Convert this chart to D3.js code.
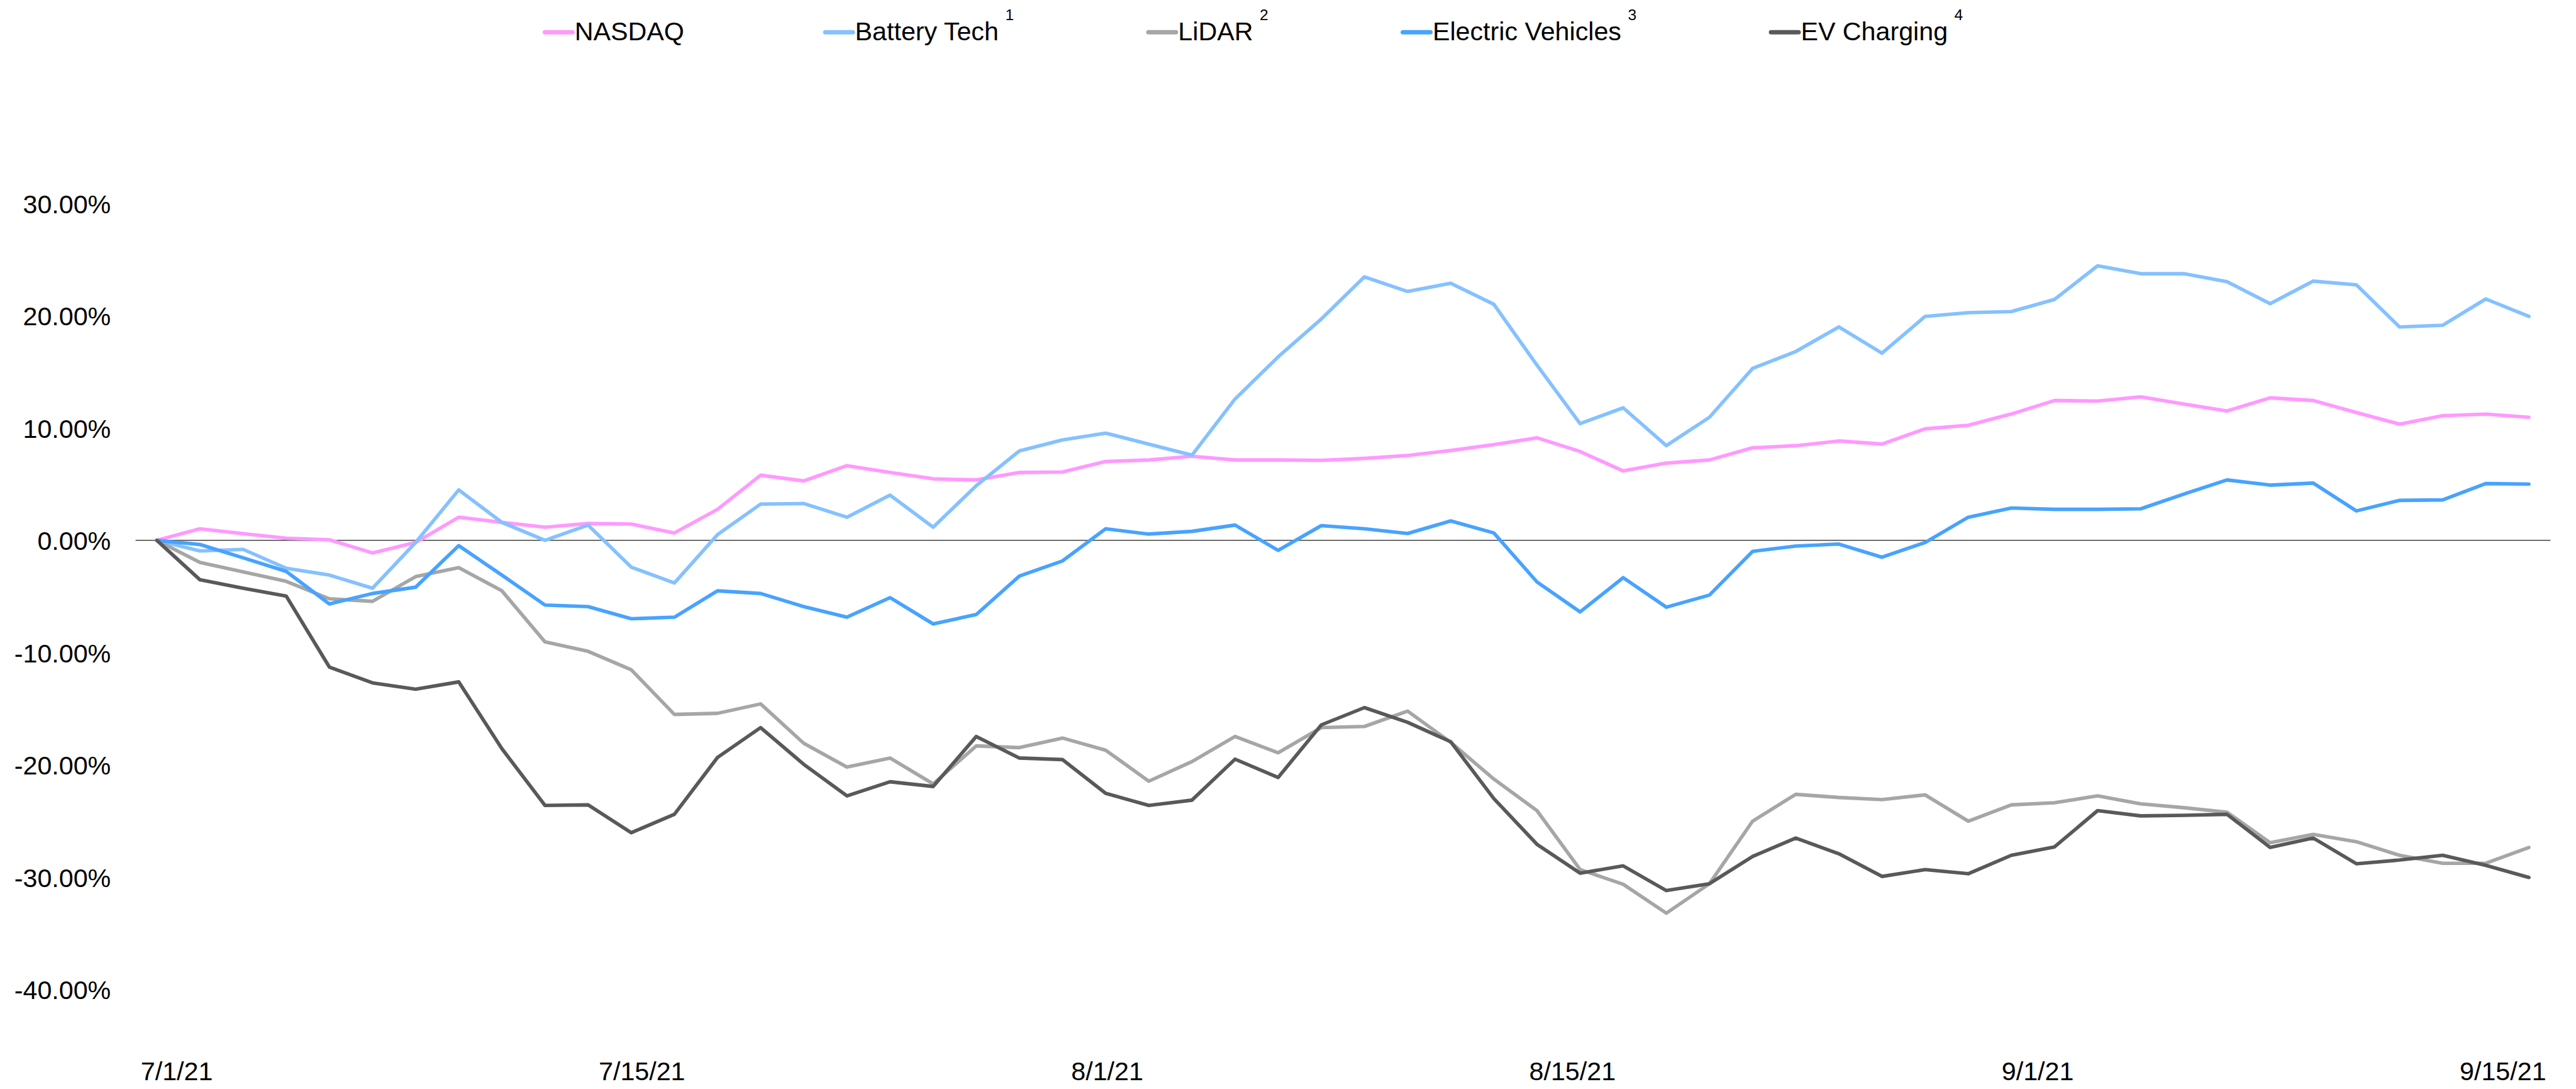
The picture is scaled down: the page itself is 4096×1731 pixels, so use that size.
<!DOCTYPE html>
<html><head><meta charset="utf-8">
<script src="https://cdn.jsdelivr.net/npm/d3@7"></script>
<style>html,body{margin:0;padding:0;background:#fff;overflow:hidden}</style>
</head><body>
<svg id="chart" width="4096" height="1731" viewBox="0 0 4671 1974"></svg>
<script>
// ---------- DATA ----------
const dates = ["7/1","7/2","7/6","7/7","7/8","7/9","7/12","7/13","7/14","7/15","7/16","7/19","7/20","7/21","7/22","7/23","7/26","7/27","7/28","7/29","7/30",
  "8/2","8/3","8/4","8/5","8/6","8/9","8/10","8/11","8/12","8/13","8/16","8/17","8/18","8/19","8/20","8/23","8/24","8/25","8/26","8/27","8/30","8/31",
  "9/1","9/2","9/3","9/7","9/8","9/9","9/10","9/13","9/14","9/15","9/16","9/17","9/20"];
const seriesNames = ["NASDAQ","Battery Tech","LiDAR","Electric Vehicles","EV Charging"];
const seriesNotes = ["","1","2","3","4"];
const seriesColors = ["#FF99FF","#85C1FF","#A6A6A6","#47A3FF","#595959"];
const nasdaq = [0,1.03,0.6,0.19,0.05,-1.12,-0.19,2.06,1.6,1.17,1.5,1.45,0.66,2.76,5.8,5.29,6.65,6.04,5.48,5.38,6.04,6.09,7.02,7.16,7.49,7.16,7.16,7.12,7.3,7.56,8.0,8.52,9.13,7.91,6.18,6.88,7.16,8.24,8.43,8.85,8.57,9.93,10.25,11.25,12.45,12.4,12.78,12.13,11.52,12.69,12.45,11.38,10.35,11.1,11.24,10.96];
const batteryTech = [0,-0.94,-0.8,-2.48,-3.09,-4.26,-0.19,4.49,1.6,0.0,1.36,-2.39,-3.79,0.51,3.23,3.28,2.06,4.03,1.17,4.87,7.96,8.94,9.55,8.57,7.58,12.59,16.34,19.71,23.46,22.16,22.89,21.02,15.6,10.39,11.8,8.43,10.96,15.31,16.81,19.0,16.67,19.94,20.27,20.37,21.45,24.44,23.74,23.74,23.03,21.07,23.08,22.75,19.0,19.15,21.49,19.94];
const lidar = [0,-1.97,-2.8,-3.65,-5.2,-5.43,-3.23,-2.43,-4.49,-9.04,-9.88,-11.52,-15.5,-15.4,-14.56,-18.07,-20.18,-19.38,-21.68,-18.3,-18.45,-17.6,-18.68,-21.44,-19.7,-17.46,-18.91,-16.67,-16.57,-15.2,-17.98,-21.25,-24.06,-29.31,-30.62,-33.19,-30.57,-25.0,-22.61,-22.89,-23.08,-22.66,-25.0,-23.55,-23.36,-22.75,-23.46,-23.8,-24.2,-26.92,-26.17,-26.83,-28.04,-28.75,-28.75,-27.34];
const electricVehicles = [0,-0.37,-1.55,-2.76,-5.66,-4.73,-4.17,-0.47,-3.09,-5.76,-5.9,-6.98,-6.84,-4.49,-4.73,-5.9,-6.84,-5.1,-7.44,-6.6,-3.18,-1.83,1.03,0.56,0.8,1.36,-0.89,1.31,1.03,0.61,1.73,0.66,-3.7,-6.37,-3.32,-5.95,-4.87,-0.98,-0.51,-0.33,-1.5,-0.19,2.06,2.88,2.76,2.76,2.81,4.12,5.38,4.92,5.1,2.62,3.56,3.6,5.06,5.01];
const evCharging = [0,-3.51,-4.26,-4.96,-11.28,-12.69,-13.25,-12.6,-18.54,-23.6,-23.55,-26.03,-24.39,-19.33,-16.67,-19.94,-22.75,-21.49,-21.91,-17.46,-19.38,-19.52,-22.52,-23.6,-23.13,-19.48,-21.11,-16.43,-14.89,-16.2,-17.93,-22.99,-27.06,-29.63,-28.98,-31.18,-30.57,-28.14,-26.5,-27.9,-29.92,-29.31,-29.68,-28.04,-27.29,-24.06,-24.53,-24.48,-24.39,-27.34,-26.5,-28.79,-28.46,-28.04,-28.93,-30.01];
const xTickLabels = ["7/1/21","7/15/21","8/1/21","8/15/21","9/1/21","9/15/21"];
const yTickValues = [30,20,10,0,-10,-20,-30,-40];

// ---------- LAYOUT ----------
const FONT = "'Liberation Sans', Arial, sans-serif";
const FS = 47;
const svg = d3.select("#chart");
svg.append("rect").attr("width",4671).attr("height",1974).attr("fill","#fff");

const x = d3.scalePoint().domain(dates).range([284.4, 4585.6]);
const y = d3.scaleLinear().domain([-40, 30]).range([1793.9, 368.7]);
const xLab = d3.scalePoint().domain(xTickLabels).range([320, 4538]);

// y axis labels
const yAxis = d3.axisLeft(y).tickValues(yTickValues).tickSize(0).tickPadding(0)
  .tickFormat(v => v.toFixed(2) + "%");
const gy = svg.append("g").attr("transform","translate(201,0)").call(yAxis);
gy.select(".domain").remove();
gy.selectAll("text").attr("font-family",FONT).attr("font-size",FS).attr("fill","#000").attr("dy","0.36em");

// x axis labels
const xAxis = d3.axisBottom(xLab).tickSize(0).tickPadding(0);
const gx = svg.append("g").attr("transform","translate(0,1925)").call(xAxis);
gx.select(".domain").remove();
gx.selectAll("text").attr("font-family",FONT).attr("font-size",FS).attr("fill","#000");

// zero line
svg.append("line").attr("x1",245.7).attr("x2",4624.6).attr("y1",y(0)).attr("y2",y(0))
  .attr("stroke","#1a1a1a").attr("stroke-width",1.6);

// series lines
const seriesValues = [nasdaq, batteryTech, lidar, electricVehicles, evCharging];
const line = d3.line().x((d,i) => x(dates[i])).y(d => y(d));
seriesValues.forEach((vals, k) => {
  svg.append("path").datum(vals).attr("d", line)
    .attr("fill","none").attr("stroke", seriesColors[k]).attr("stroke-width",6.4)
    .attr("stroke-linejoin","round").attr("stroke-linecap","round");
});

// legend
let lx = 984;
const legendGap = 252;
seriesNames.forEach((name, k) => {
  const g = svg.append("g").attr("transform", `translate(${lx},0)`);
  g.append("line").attr("x1",4).attr("x2",54).attr("y1",58.5).attr("y2",58.5)
    .attr("stroke",seriesColors[k]).attr("stroke-width",8).attr("stroke-linecap","round");
  const t = g.append("text").attr("x",58).attr("y",73).attr("font-family",FONT).attr("font-size",FS).attr("fill","#000");
  t.append("tspan").text(name);
  if (seriesNotes[k]) {
    t.append("tspan").attr("dx",12).attr("dy",-37).attr("font-size",28).text(seriesNotes[k]);
  }
  const w = t.node().getComputedTextLength();
  lx += 58 + w + legendGap;
});
</script>
</body></html>
